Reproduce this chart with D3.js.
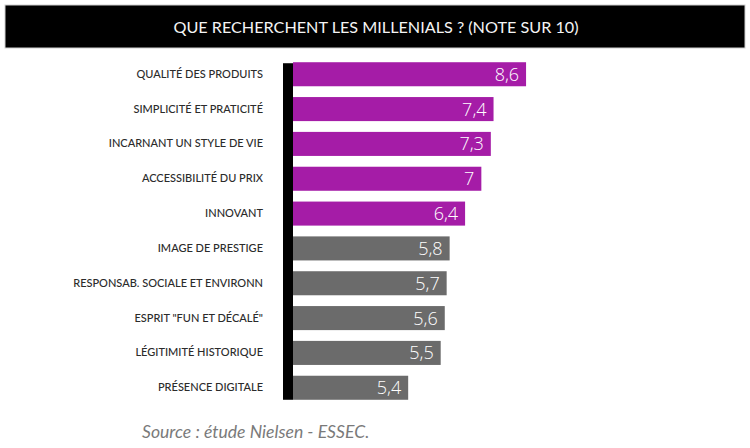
<!DOCTYPE html>
<html><head><meta charset="utf-8">
<script src="https://cdn.jsdelivr.net/npm/d3@7"></script>
<style>
html,body{margin:0;padding:0;background:#fff;}
svg{display:block;}
</style></head>
<body>
<svg id="chart" width="750" height="448"></svg>
<script>
const title = "QUE RECHERCHENT LES MILLENIALS ? (NOTE SUR 10)";
const categories = [
  "QUALITÉ DES PRODUITS",
  "SIMPLICITÉ ET PRATICITÉ",
  "INCARNANT UN STYLE DE VIE",
  "ACCESSIBILITÉ DU PRIX",
  "INNOVANT",
  "IMAGE DE PRESTIGE",
  "RESPONSAB. SOCIALE ET ENVIRONN",
  "ESPRIT \"FUN ET DÉCALÉ\"",
  "LÉGITIMITÉ HISTORIQUE",
  "PRÉSENCE DIGITALE"
];
const scores = [8.6, 7.4, 7.3, 7, 6.4, 5.8, 5.7, 5.6, 5.5, 5.4];
// bar lengths as drawn in the original picture (last bar is drawn shorter than its label)
const drawnLengths = [8.6, 7.4, 7.3, 6.95, 6.35, 5.78, 5.67, 5.6, 5.45, 4.25];
const highlighted = [true, true, true, true, true, false, false, false, false, false];
const source = "Source : étude Nielsen - ESSEC.";

const svg = d3.select("#chart");
const W = 750;

// title banner
svg.append("rect").attr("x", 5).attr("y", 5).attr("width", 740).attr("height", 43)
  .attr("fill", "#000").attr("stroke", "#cfcfcf").attr("stroke-width", 1);
svg.append("text").attr("x", W / 2 + 1).attr("y", 27).attr("dy", "0.35em")
  .attr("text-anchor", "middle").attr("fill", "#f4f4f4")
  .style("font-family", "Lato, 'Open Sans', sans-serif").style("font-size", "16.2px")
  .text(title);

const x = d3.scaleLinear().domain([0, 10]).range([293, 564]);
const y = d3.scaleBand().domain(categories).range([57, 405]).paddingInner(0.31).paddingOuter(0.15);

const g = svg.append("g");
g.selectAll("rect.bar").data(categories).join("rect")
  .attr("class", "bar")
  .attr("x", x(0))
  .attr("y", d => y(d))
  .attr("width", (d, i) => x(drawnLengths[i]) - x(0))
  .attr("height", y.bandwidth())
  .attr("fill", (d, i) => highlighted[i] ? "#a51ca7" : "#6b6b6b");

// value labels
g.selectAll("text.val").data(categories).join("text")
  .attr("class", "val")
  .attr("x", (d, i) => x(drawnLengths[i]) - 7)
  .attr("y", d => y(d) + y.bandwidth() / 2)
  .attr("dy", "0.36em")
  .attr("text-anchor", "end")
  .attr("fill", "#fff")
  .style("font-family", "'Open Sans', Lato, sans-serif").style("font-size", "18px")
  .style("font-weight", 300)
  .text((d, i) => String(scores[i]).replace(".", ","));

// category axis
const axis = d3.axisLeft(y).tickSize(0).tickPadding(20);
const ax = svg.append("g").attr("transform", `translate(${x(0) - 10},0)`).call(axis);
ax.select(".domain").remove();
ax.selectAll("text").attr("fill", "#2b2b2b")
  .style("font-family", "Lato, 'Open Sans', sans-serif").style("font-size", "11px")
  .style("font-weight", 500);

// thick black baseline
svg.append("rect").attr("x", x(0) - 10).attr("y", y(categories[0]) + 1)
  .attr("width", 10).attr("height", y(categories[categories.length - 1]) + y.bandwidth() - y(categories[0]) - 1)
  .attr("fill", "#000");

// source
svg.append("text").attr("x", 142).attr("y", 432).attr("dy", "0.35em")
  .attr("fill", "#7a7a7a").style("font-style", "italic")
  .style("font-family", "Lato, 'Open Sans', sans-serif").style("font-size", "17.6px")
  .text(source);
</script>
</body></html>
